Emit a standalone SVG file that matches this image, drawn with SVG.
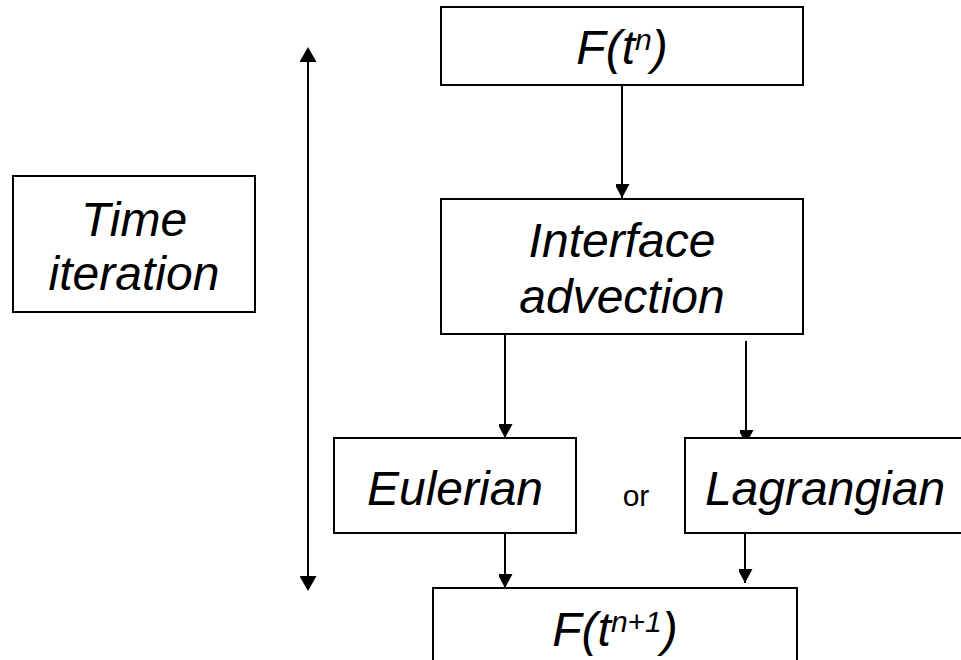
<svg xmlns="http://www.w3.org/2000/svg" width="961" height="660" viewBox="0 0 961 660">
<style>
.box{fill:#fff;stroke:#000;stroke-width:2}
.t{font-family:"Liberation Sans",Arial,sans-serif;font-style:italic;font-size:48px;fill:#000;text-anchor:middle}
.sup{font-size:30px}
.or{font-family:"Liberation Sans",Arial,sans-serif;font-size:30px;fill:#000;text-anchor:middle}
.c{stroke:#000;stroke-width:2;fill:none}
</style>
<defs>
<marker id="ah" markerWidth="15" markerHeight="14" refX="14" refY="7.5" orient="auto" markerUnits="userSpaceOnUse">
<path d="M0,0 L14,7.5 L0,15 z" fill="#000"/>
</marker>
<marker id="ahs" markerWidth="15" markerHeight="17" refX="0" refY="8.5" orient="auto-start-reverse" markerUnits="userSpaceOnUse">
<path d="M0,0 L15,8.5 L0,17 z" fill="#000"/>
</marker>
</defs>
<g id="connectors">
<line class="c" x1="308" y1="62" x2="308" y2="576" marker-start="url(#ahs)" marker-end="url(#ahs)"/>
<line class="c" x1="622" y1="85" x2="622" y2="198" marker-end="url(#ah)"/>
<line class="c" x1="505" y1="334" x2="505" y2="438" marker-end="url(#ah)"/>
<line class="c" x1="746" y1="341" x2="746" y2="444" marker-end="url(#ah)"/>
<line class="c" x1="505" y1="533" x2="505" y2="588" marker-end="url(#ah)"/>
<line class="c" x1="745" y1="533" x2="745" y2="583" marker-end="url(#ah)"/>
</g>
<g id="time-iteration">
<rect class="box" x="13" y="176" width="242" height="136"/>
<text class="t" x="134" y="236">Time</text>
<text class="t" x="134" y="290">iteration</text>
</g>
<g id="f-tn">
<rect class="box" x="441" y="7" width="362" height="78"/>
<text class="t" x="622" y="64">F(t<tspan class="sup" dy="-14">n</tspan><tspan dy="14">)</tspan></text>
</g>
<g id="interface-advection">
<rect class="box" x="441" y="199" width="362" height="135"/>
<text class="t" x="622" y="257">Interface</text>
<text class="t" x="622" y="313">advection</text>
</g>
<g id="eulerian">
<rect class="box" x="334" y="438" width="242" height="95"/>
<text class="t" x="455" y="505">Eulerian</text>
</g>
<text class="or" x="636" y="506">or</text>
<g id="lagrangian">
<rect class="box" x="685" y="438" width="290" height="95"/>
<text class="t" x="825" y="505">Lagrangian</text>
</g>
<g id="f-tn1">
<rect class="box" x="433" y="588" width="364" height="90"/>
<text class="t" x="615" y="646">F(t<tspan class="sup" dy="-14">n+1</tspan><tspan dy="14">)</tspan></text>
</g>
</svg>
